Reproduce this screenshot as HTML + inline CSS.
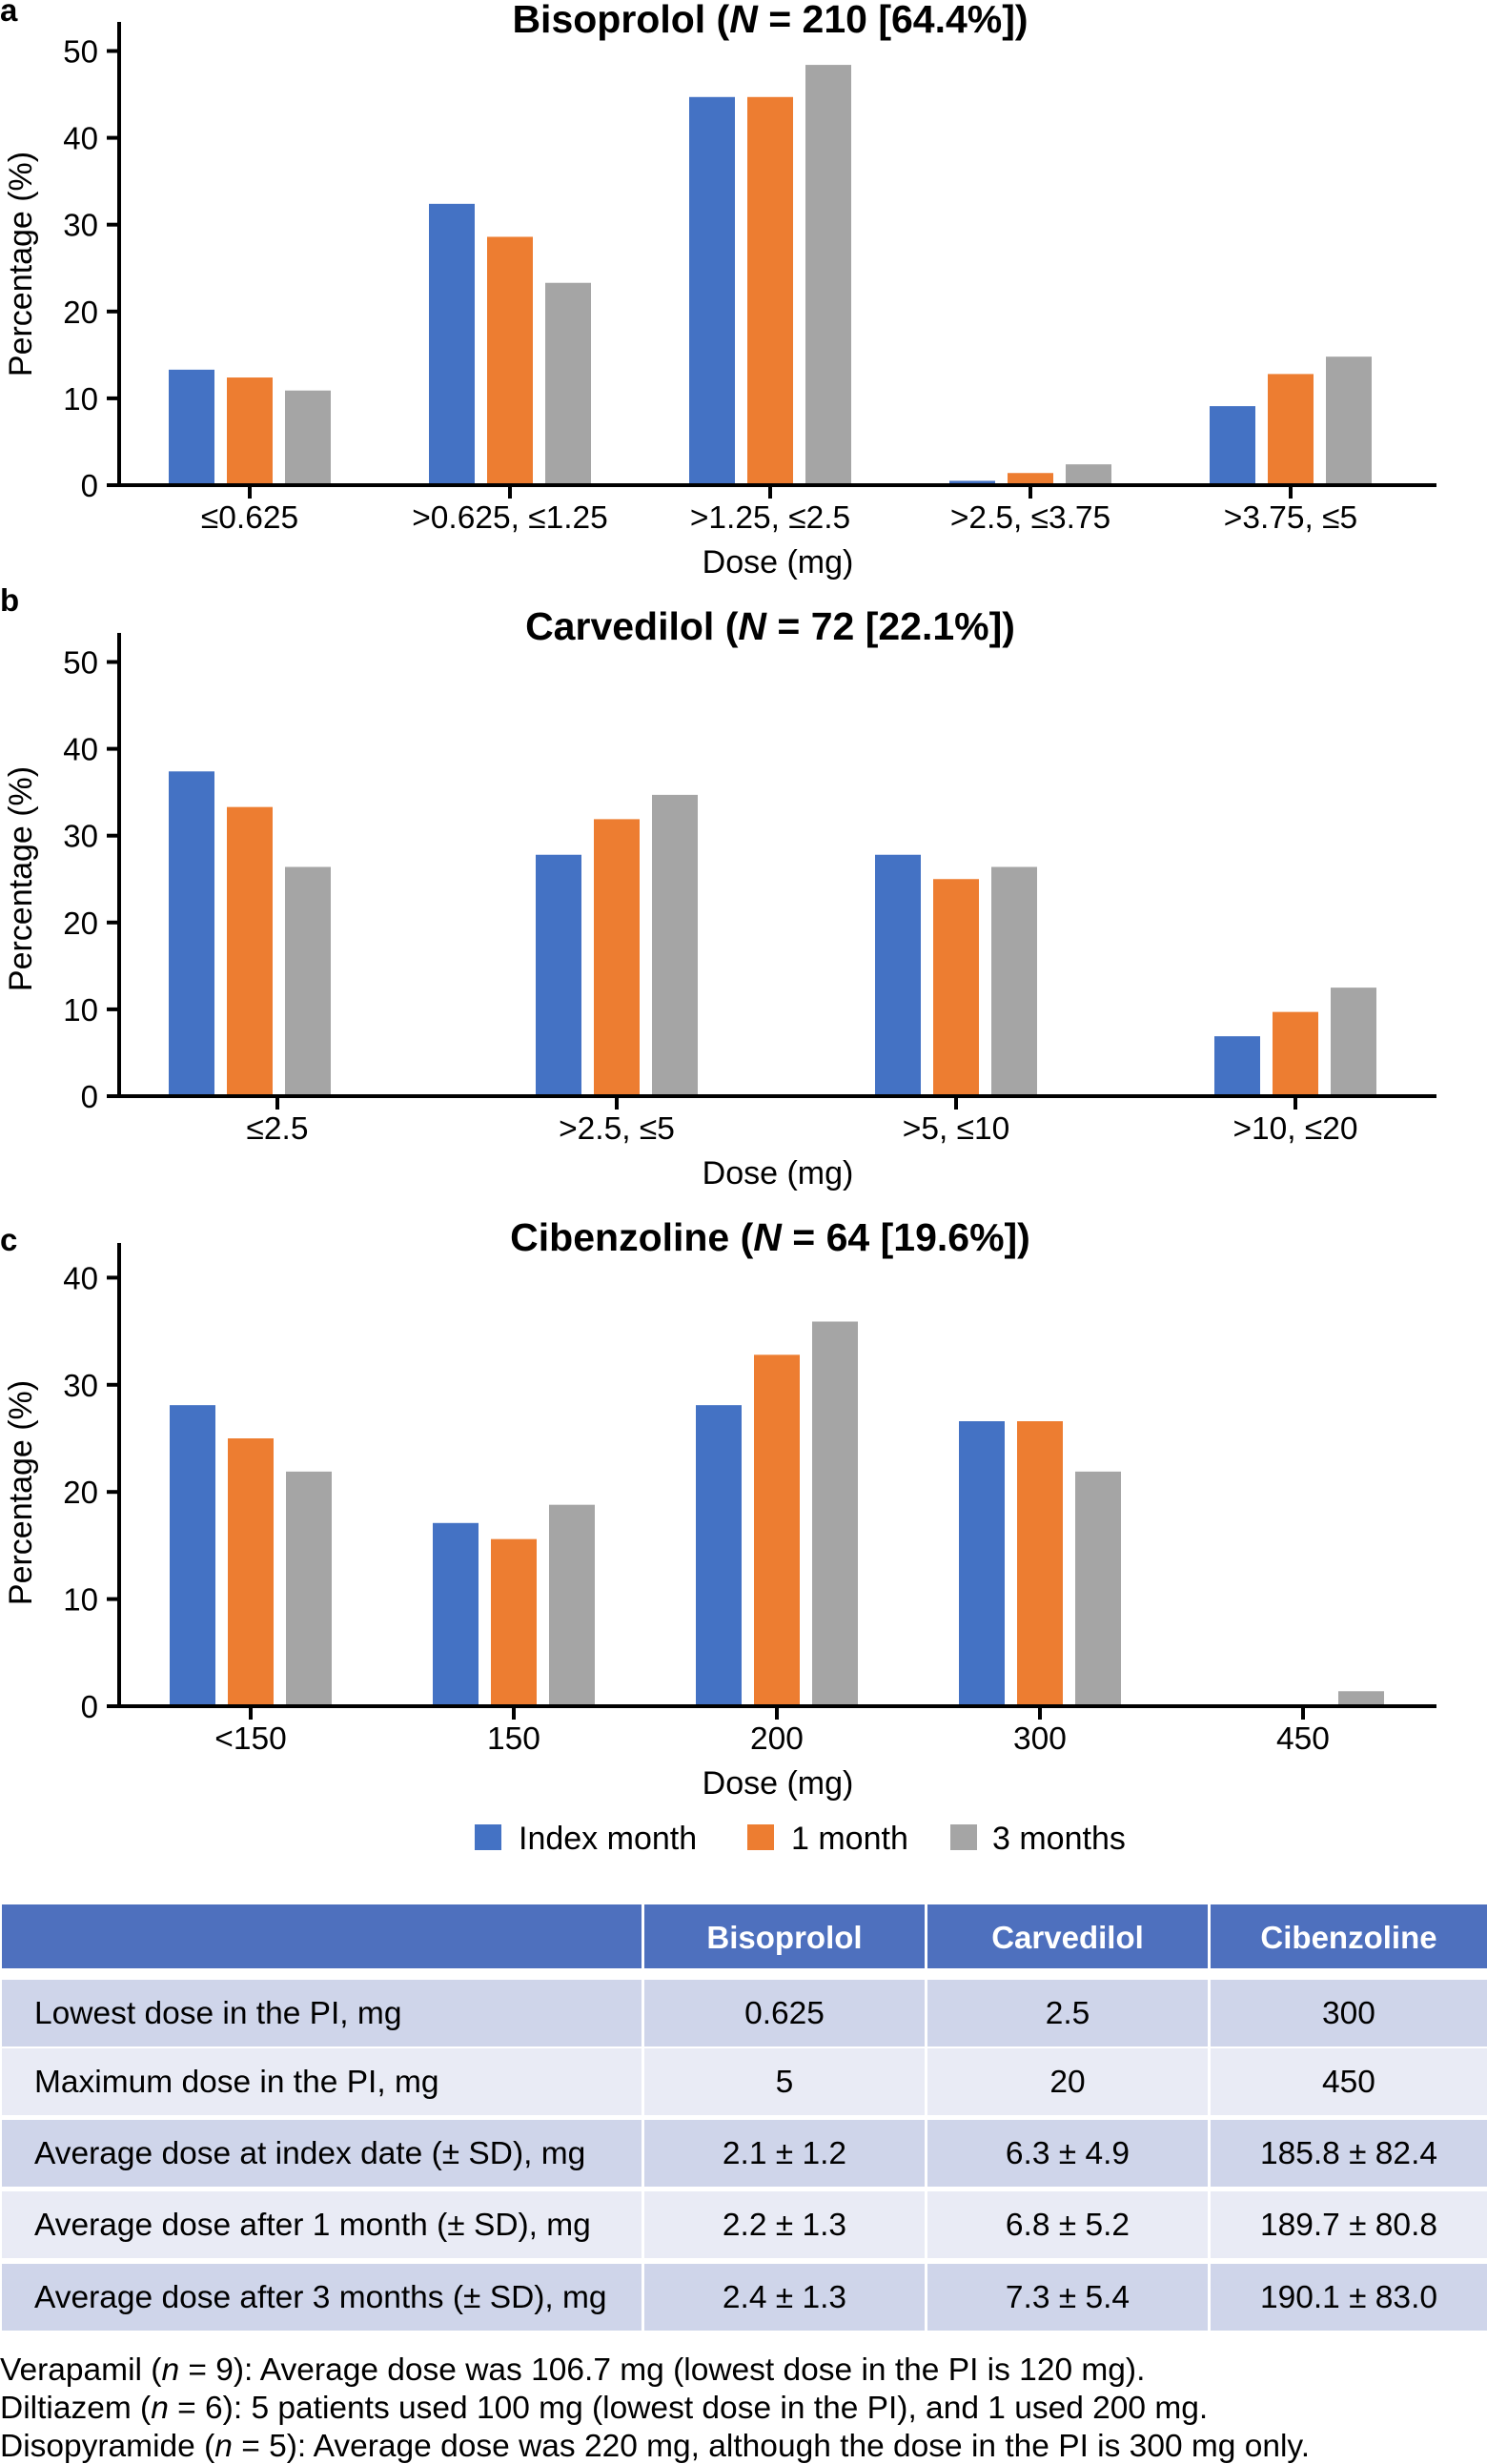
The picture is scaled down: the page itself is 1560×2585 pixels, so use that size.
<!DOCTYPE html>
<html><head><meta charset="utf-8"><style>
html,body{margin:0;padding:0;background:#fff;width:1560px;height:2585px;overflow:hidden}
svg text{font-family:"Liberation Sans",Arial,sans-serif}
</style></head>
<body>
<svg id="fig" width="1560" height="2585" viewBox="0 0 1560 2585" xmlns="http://www.w3.org/2000/svg">
<g id="chartA"></g>
<g id="chartB"></g>
<g id="chartC"></g>
<g id="legend">
  <rect x="498" y="1914" width="28" height="27" fill="#4472c4"/>
  <text x="544" y="1940" font-size="34">Index month</text>
  <rect x="784" y="1914" width="28" height="27" fill="#ed7d31"/>
  <text x="830" y="1940" font-size="34">1 month</text>
  <rect x="997" y="1914" width="28" height="27" fill="#a5a5a5"/>
  <text x="1041" y="1940" font-size="34">3 months</text>
</g>
<g id="table"></g>
<g id="notes" font-size="33.5">
  <text x="0" y="2497">Verapamil (<tspan font-style="italic">n</tspan> = 9): Average dose was 106.7 mg (lowest dose in the PI is 120 mg).</text>
  <text x="0" y="2537">Diltiazem (<tspan font-style="italic">n</tspan> = 6): 5 patients used 100 mg (lowest dose in the PI), and 1 used 200 mg.</text>
  <text x="0" y="2577">Disopyramide (<tspan font-style="italic">n</tspan> = 5): Average dose was 220 mg, although the dose in the PI is 300 mg only.</text>
</g>
</svg>
<script>
const seriesNames = ['Index month', '1 month', '3 months'];
const seriesColors = ['#4472c4', '#ed7d31', '#a5a5a5'];

const bisoCategories = ['≤0.625', '>0.625, ≤1.25', '>1.25, ≤2.5', '>2.5, ≤3.75', '>3.75, ≤5'];
const bisoIndex = [13.3, 32.4, 44.7, 0.5, 9.1];
const bisoMonth1 = [12.4, 28.6, 44.7, 1.4, 12.8];
const bisoMonth3 = [10.9, 23.3, 48.4, 2.4, 14.8];
const bisoTicks = [0, 10, 20, 30, 40, 50];

const carvCategories = ['≤2.5', '>2.5, ≤5', '>5, ≤10', '>10, ≤20'];
const carvIndex = [37.4, 27.8, 27.8, 6.9];
const carvMonth1 = [33.3, 31.9, 25.0, 9.7];
const carvMonth3 = [26.4, 34.7, 26.4, 12.5];
const carvTicks = [0, 10, 20, 30, 40, 50];

const cibeCategories = ['<150', '150', '200', '300', '450'];
const cibeIndex = [28.1, 17.1, 28.1, 26.6, 0];
const cibeMonth1 = [25.0, 15.6, 32.8, 26.6, 0];
const cibeMonth3 = [21.9, 18.8, 35.9, 21.9, 1.4];
const cibeTicks = [0, 10, 20, 30, 40];

const NS = 'http://www.w3.org/2000/svg';
function mk(tag, attrs, parent) {
  const e = document.createElementNS(NS, tag);
  for (const k in attrs) e.setAttribute(k, attrs[k]);
  parent.appendChild(e);
  return e;
}

function drawChart(cfg) {
  const g = document.getElementById(cfg.id);
  const yScale = v => cfg.zeroY - v * cfg.pxPerUnit;
  const xCenter = i => cfg.firstCenter + i * cfg.band + (cfg.shift[i] || 0);
  const tickX = i => cfg.firstTick + i * cfg.band;
  const barW = 48, barStep = 61;

  const letter = mk('text', {x: 0, y: cfg.letterY, 'font-size': 33, 'font-weight': 'bold'}, g);
  
  
  letter.textContent = cfg.letter;

  const title = mk('text', {x: 808, y: cfg.titleY, 'font-size': 41, 'font-weight': 'bold', 'text-anchor': 'middle'}, g);
  
  
  title.innerHTML = cfg.titleA + '<tspan font-style="italic">N</tspan>' + cfg.titleB;

  cfg.series.forEach((vals, s) => {
    vals.forEach((v, i) => {
      const cx = xCenter(i) + (s - 1) * barStep;
      const y = yScale(v);
      const r = mk('rect', {x: cx - barW / 2, y: y, width: barW, height: Math.max(0, cfg.zeroY - y), fill: seriesColors[s]}, g);
      
      
    });
  });

  const yAxis = mk('line', {x1: 125, y1: cfg.axisTop, x2: 125, y2: cfg.zeroY + 2, stroke: '#000', 'stroke-width': 4}, g);
  
  
  const xAxis = mk('line', {x1: 112, y1: cfg.zeroY, x2: 1507, y2: cfg.zeroY, stroke: '#000', 'stroke-width': 4}, g);
  
  

  cfg.ticks.forEach(t => {
    const y = yScale(t);
    const tk = mk('line', {x1: 112, y1: y, x2: 125, y2: y, stroke: '#000', 'stroke-width': 4}, g);
    
    
    const lb = mk('text', {x: 103, y: y + 12, 'font-size': 33, 'text-anchor': 'end'}, g);
    
    
    lb.textContent = t;
  });

  cfg.categories.forEach((c, i) => {
    const x = tickX(i);
    const tk = mk('line', {x1: x, y1: cfg.zeroY, x2: x, y2: cfg.zeroY + 14, stroke: '#000', 'stroke-width': 4}, g);
    
    
    const lb = mk('text', {x: x, y: cfg.zeroY + 45, 'font-size': 33.5, 'text-anchor': 'middle'}, g);
    
    
    lb.textContent = c;
  });

  const xt = mk('text', {x: 816, y: cfg.zeroY + 92, 'font-size': 34, 'text-anchor': 'middle'}, g);
  
  
  xt.textContent = 'Dose (mg)';

  const yt = mk('text', {x: 0, y: 0, 'font-size': 34, 'text-anchor': 'middle', transform: 'translate(33,' + cfg.yTitleY + ') rotate(-90)'}, g);
  
  
  yt.textContent = 'Percentage (%)';
}

drawChart({id: 'chartA', key: 'biso', letter: 'a', letterY: 22, titleY: 34, titleA: 'Bisoprolol (', titleB: ' = 210 [64.4%])',
  categories: bisoCategories, series: [bisoIndex, bisoMonth1, bisoMonth3], ticks: bisoTicks,
  zeroY: 509, pxPerUnit: 9.11, axisTop: 23, firstCenter: 262, firstTick: 262, band: 273, shift: [], yTitleY: 277});
drawChart({id: 'chartB', key: 'carv', letter: 'b', letterY: 641, titleY: 671, titleA: 'Carvedilol (', titleB: ' = 72 [22.1%])',
  categories: carvCategories, series: [carvIndex, carvMonth1, carvMonth3], ticks: carvTicks,
  zeroY: 1150, pxPerUnit: 9.11, axisTop: 664, firstCenter: 291, firstTick: 291, band: 356, shift: [-29], yTitleY: 922});
drawChart({id: 'chartC', key: 'cibe', letter: 'c', letterY: 1312, titleY: 1312, titleA: 'Cibenzoline (', titleB: ' = 64 [19.6%])',
  categories: cibeCategories, series: [cibeIndex, cibeMonth1, cibeMonth3], ticks: cibeTicks,
  zeroY: 1790, pxPerUnit: 11.24, axisTop: 1304, firstCenter: 263, firstTick: 263, band: 276, shift: [], yTitleY: 1566});

// Table
const tableHeaders = ['', 'Bisoprolol', 'Carvedilol', 'Cibenzoline'];
const tableRows = [
  ['Lowest dose in the PI, mg', '0.625', '2.5', '300'],
  ['Maximum dose in the PI, mg', '5', '20', '450'],
  ['Average dose at index date (± SD), mg', '2.1 ± 1.2', '6.3 ± 4.9', '185.8 ± 82.4'],
  ['Average dose after 1 month (± SD), mg', '2.2 ± 1.3', '6.8 ± 5.2', '189.7 ± 80.8'],
  ['Average dose after 3 months (± SD), mg', '2.4 ± 1.3', '7.3 ± 5.4', '190.1 ± 83.0']
];
(function () {
  const g = document.getElementById('table');
  const colX = [2, 676, 973, 1270];
  const colW = [671, 294, 294, 290];
  const headY = 1998, headH = 67;
  const rowY = [2077, 2149, 2224, 2299, 2375], rowH = 70;
  tableHeaders.forEach((h, c) => {
    const r = mk('rect', {x: colX[c], y: headY, width: colW[c], height: headH, fill: '#4e70be'}, g);
    
    
    if (h) {
      const t = mk('text', {x: colX[c] + colW[c] / 2, y: headY + 46, 'font-size': 33, 'font-weight': 'bold', fill: '#fff', 'text-anchor': 'middle'}, g);
      
      
      t.textContent = h;
    }
  });
  tableRows.forEach((row, ri) => {
    row.forEach((cell, c) => {
      const r = mk('rect', {x: colX[c], y: rowY[ri], width: colW[c], height: rowH, fill: ri % 2 === 0 ? '#cfd5ea' : '#e9ebf5'}, g);
      
      
      const t = mk('text', {x: c === 0 ? 36 : colX[c] + colW[c] / 2, y: rowY[ri] + 46, 'font-size': 33.5, 'text-anchor': c === 0 ? 'start' : 'middle'}, g);
      
      
      t.textContent = cell;
    });
  });
})();
</script>
</body></html>
